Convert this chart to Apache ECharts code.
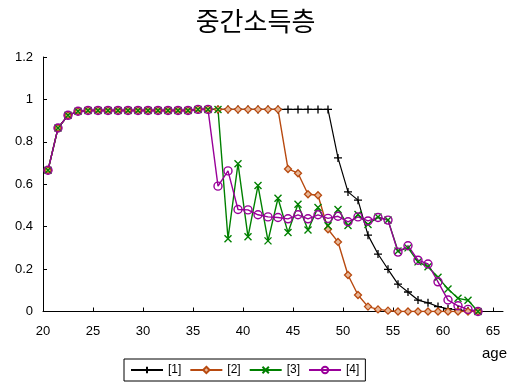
<!DOCTYPE html>
<html>
<head>
<meta charset="utf-8">
<script src="https://cdn.jsdelivr.net/npm/echarts@6/dist/echarts.min.js"></script>
<style>
  html, body { margin: 0; padding: 0; background: #fff; }
  #chart { width: 511px; height: 387px; }
</style>
</head>
<body>
<div id="chart"></div>
<script>
// Age class midpoints (x values)
const ages = [20.5, 21.5, 22.5, 23.5, 24.5, 25.5, 26.5, 27.5, 28.5, 29.5,
              30.5, 31.5, 32.5, 33.5, 34.5, 35.5, 36.5, 37.5, 38.5, 39.5,
              40.5, 41.5, 42.5, 43.5, 44.5, 45.5, 46.5, 47.5, 48.5, 49.5,
              50.5, 51.5, 52.5, 53.5, 54.5, 55.5, 56.5, 57.5, 58.5, 59.5,
              60.5, 61.5, 62.5, 63.5];

const seriesNames = ['[1]', '[2]', '[3]', '[4]'];

const s1 = [0.666, 0.865, 0.925, 0.944, 0.948, 0.948, 0.948, 0.948, 0.948, 0.948,
            0.948, 0.948, 0.948, 0.948, 0.948, 0.953, 0.953, 0.953, 0.953, 0.953,
            0.953, 0.953, 0.953, 0.953, 0.953, 0.953, 0.953, 0.953, 0.953, 0.724,
            0.564, 0.525, 0.360, 0.271, 0.199, 0.129, 0.092, 0.054, 0.041, 0.023,
            0.013, 0.007, 0.004, 0.000];

const s2 = [0.666, 0.865, 0.925, 0.944, 0.948, 0.948, 0.948, 0.948, 0.948, 0.948,
            0.948, 0.948, 0.948, 0.948, 0.948, 0.953, 0.953, 0.953, 0.953, 0.953,
            0.953, 0.953, 0.953, 0.953, 0.672, 0.652, 0.553, 0.548, 0.388, 0.328,
            0.172, 0.078, 0.023, 0.010, 0.004, 0.000, 0.000, 0.000, 0.000, 0.000,
            0.000, 0.000, 0.000, 0.000];

const s3 = [0.666, 0.865, 0.925, 0.944, 0.948, 0.948, 0.948, 0.948, 0.948, 0.948,
            0.948, 0.948, 0.948, 0.948, 0.948, 0.953, 0.953, 0.953, 0.343, 0.697,
            0.352, 0.594, 0.333, 0.534, 0.373, 0.506, 0.384, 0.490, 0.404, 0.481,
            0.406, 0.457, 0.410, 0.446, 0.431, 0.285, 0.300, 0.234, 0.211, 0.161,
            0.106, 0.062, 0.053, 0.000];

const s4 = [0.666, 0.865, 0.925, 0.944, 0.948, 0.948, 0.948, 0.948, 0.948, 0.948,
            0.948, 0.948, 0.948, 0.948, 0.948, 0.953, 0.953, 0.591, 0.663, 0.481,
            0.479, 0.456, 0.446, 0.443, 0.437, 0.456, 0.437, 0.456, 0.439, 0.449,
            0.423, 0.446, 0.427, 0.443, 0.431, 0.280, 0.310, 0.242, 0.224, 0.140,
            0.054, 0.027, 0.010, 0.000];

const xTicks = [20, 25, 30, 35, 40, 45, 50, 55, 60, 65];

const pairs = arr => ages.map((a, i) => [a, arr[i]]);

const PLUS = 'path://M5,0L5,10M0,5L10,5';
const CROSS = 'path://M0,0L10,10M10,0L0,10';

const chart = echarts.init(document.getElementById('chart'), null, { renderer: 'canvas' });

const axisFont = { fontFamily: 'Liberation Sans, Arial, sans-serif', fontSize: 13, color: '#000' };

chart.setOption({
  animation: false,
  backgroundColor: '#fff',
  title: {
    text: '중간소득층',
    left: 'center',
    top: 3,
    textStyle: { fontFamily: 'Noto Sans CJK KR', fontWeight: 'normal', fontSize: 26, color: '#000' }
  },
  grid: { left: 43, right: 8, top: 57, bottom: 75.5, containLabel: false, outerBoundsMode: 'none' },
  legend: {
    data: seriesNames,
    left: 124,
    top: 359,
    padding: [5, 6, 5, 6],
    itemWidth: 32,
    itemHeight: 8,
    itemGap: 8,
    borderColor: '#000',
    borderWidth: 1,
    borderRadius: 0,
    textStyle: { fontFamily: 'Liberation Sans, Arial, sans-serif', fontSize: 12, color: '#000' }
  },
  xAxis: {
    type: 'value',
    min: 20,
    max: 66,
    name: 'age',
    nameLocation: 'end',
    nameGap: -21,
    nameMoveOverlap: false,
    nameTextStyle: Object.assign({}, axisFont, { fontSize: 15, verticalAlign: 'top', padding: [35, 0, 0, 0] }),
    axisLine: { show: true, onZero: false, lineStyle: { color: '#000', width: 1 } },
    axisTick: { show: true, inside: true, length: 4, customValues: xTicks, lineStyle: { color: '#000' } },
    axisLabel: Object.assign({}, axisFont, { margin: 13, customValues: xTicks }),
    splitLine: { show: false }
  },
  yAxis: {
    type: 'value',
    min: 0,
    max: 1.2,
    interval: 0.2,
    axisLine: { show: true, lineStyle: { color: '#000', width: 1 } },
    axisTick: { show: true, inside: true, length: 4, lineStyle: { color: '#000' } },
    axisLabel: Object.assign({}, axisFont, { margin: 10 }),
    splitLine: { show: false }
  },
  series: [
    {
      name: seriesNames[0], type: 'line', data: pairs(s1),
      symbol: PLUS, symbolSize: 8,
      lineStyle: { color: '#000', width: 1.2 },
      itemStyle: { color: '#000', borderColor: '#000', borderWidth: 1.3 }
    },
    {
      name: seriesNames[1], type: 'line', data: pairs(s2),
      symbol: 'diamond', symbolSize: 7,
      lineStyle: { color: '#B84A10', width: 1.4 },
      itemStyle: { color: '#E8B898', borderColor: '#B84A10', borderWidth: 1.3 }
    },
    {
      name: seriesNames[2], type: 'line', data: pairs(s3),
      symbol: CROSS, symbolSize: 7,
      lineStyle: { color: '#008000', width: 1.4 },
      itemStyle: { color: '#008000', borderColor: '#008000', borderWidth: 1.4 }
    },
    {
      name: seriesNames[3], type: 'line', data: pairs(s4),
      symbol: 'circle', symbolSize: 8,
      lineStyle: { color: '#990099', width: 1.4 },
      itemStyle: { color: 'rgba(255,255,255,0)', borderColor: '#990099', borderWidth: 1.4 }
    }
  ]
});
</script>
</body>
</html>
